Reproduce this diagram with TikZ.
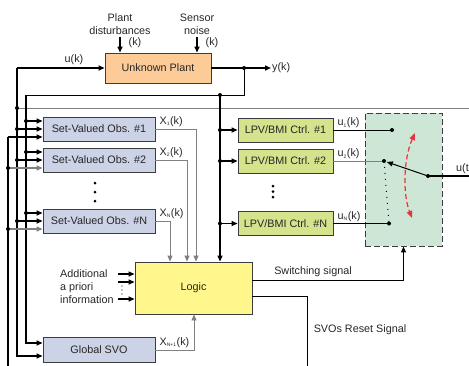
\documentclass[tikz,border=0pt]{standalone}
\usepackage{fontspec}
\setmainfont{Liberation Sans}
\usetikzlibrary{arrows.meta}
\definecolor{plantfill}{HTML}{FCCB98}
\definecolor{obsfill}{HTML}{CDD3E6}
\definecolor{ctrlfill}{HTML}{D5E38C}
\definecolor{logicfill}{HTML}{FFF68C}
\definecolor{swfill}{HTML}{CDE6D5}
\definecolor{edge}{HTML}{3C3C3C}
\definecolor{swred}{HTML}{E8323C}
\tikzset{
  blk/.style={draw=edge,line width=0.9pt,inner sep=0pt,minimum height=24pt},
  obs/.style={blk,fill=obsfill,minimum width=112pt},
  ctrl/.style={blk,fill=ctrlfill,minimum width=95pt},
  thk/.style={line width=1.6pt},
  wire/.style={line width=1pt},
  sig/.style={line width=0.9pt,draw=black!50},
  lbl/.style={inner sep=1pt}
}
\begin{document}
\begin{tikzpicture}[x=1pt,y=-1pt,>={Triangle[length=6pt,width=5pt]},
    every node/.style={font=\fontsize{10.8}{13}\selectfont,text=black!85}]
    \useasboundingbox (0,0) rectangle (469,365);
    \node[blk,fill=plantfill,minimum width=106pt,minimum height=30pt] (plant) at (158,68) {Unknown Plant};
    \node[obs] (obs1) at (99,129) {Set-Valued Obs. \#1};
    \node[obs] (obs2) at (99,160) {Set-Valued Obs. \#2};
    \node[obs] (obsN) at (99,221) {Set-Valued Obs. \#N};
    \node[obs,minimum height=25pt] (gsvo) at (99,350) {Global SVO};
    \node[blk,fill=logicfill,minimum width=117pt,minimum height=52pt] (logic) at (193.5,288) {Logic};
    \node[ctrl] (ctrl1) at (285.5,130) {LPV/BMI Ctrl. \#1};
    \node[ctrl] (ctrl2) at (285.5,161) {LPV/BMI Ctrl. \#2};
    \node[ctrl] (ctrlN) at (285.5,223.5) {LPV/BMI Ctrl. \#N};
    \node[blk,fill=swfill,dash pattern=on 6pt off 3pt,minimum width=77pt,minimum height=133pt] (sw) at (403.5,179.5) {};
    \node[align=center,lbl] (dist) at (120,24) {Plant\\disturbances};
    \node[align=center,lbl] (noise) at (197,24) {Sensor\\noise};
    \node (distk) at (135,43) {(k)};
    \node (noisek) at (212,43) {(k)};
    \node (uk) at (74,60) {u(k)};
    \node[right,lbl] (yk) at (271,68) {y(k)};
    \node[align=left,lbl,anchor=west] (info) at (59,287) {Additional\\a priori\\information};
    \node[lbl] (swlbl) at (313,272) {Switching signal};
    \node[lbl] (rstlbl) at (360,330) {SVOs Reset Signal};
    \coordinate (ubus) at (17,68);
    \coordinate (ybus) at (26,95);
    \coordinate (rbus) at (8,137);
    \coordinate (ufb) at (17,108);
    \coordinate (ytap) at (244,68);
    \coordinate (ydrop) at (220,95);
    \coordinate (s1) at (392,130);
    \coordinate (s2) at (384,161);
    \coordinate (sN) at (389,223.5);
    \coordinate (piv) at (428,176);
    \draw[thk,->] ([yshift=-1pt]dist.south) -- (dist.south |- plant.north);
    \draw[thk,->] ([yshift=-1pt]noise.south) -- (noise.south |- plant.north);
    \draw[thk,->] (ubus) -- (plant.west);
    \draw[thk,->] (plant.east) -- (yk.west);
    \draw[wire] (ytap) |- (ybus);
    \draw[sig] (ufb) -- (475,108);
    \draw[thk,->] (ybus) |- ([yshift=7pt]gsvo.west);
    \draw[thk,->] (ubus) |- ([yshift=-6pt]gsvo.west);
    \draw[thk] (rbus) -- (8,370);
    \foreach \o in {obs1,obs2,obsN}{
        \coordinate (inA) at ([yshift=8pt]\o.west);
        \draw[thk,->] (ybus |- inA) -- (inA);
        \draw[thk,->] (ubus |- \o.west) -- (\o.west);
        \fill (ybus |- inA) circle (2pt) (ubus |- \o.west) circle (2pt);
    }
    \draw[thk,->] (rbus) -- ([yshift=-8pt]obs1.west);
    \foreach \o in {obs2,obsN}{
        \coordinate (inC) at ([yshift=-8pt]\o.west);
        \draw[sig,line width=1.3pt,->] (rbus |- inC) -- (inC);
        \fill (rbus |- inC) circle (2pt);
    }
    \draw[line width=1.2pt,->] (ydrop) -- (ydrop |- logic.north);
    \foreach \c in {ctrl1,ctrl2,ctrlN}{
        \draw[thk,->] (ydrop |- \c.west) -- (\c.west);
        \fill (ydrop |- \c.west) circle (2pt);
    }
    \fill (ufb) circle (2pt) (ytap) circle (2pt) (ydrop) circle (2pt);
    \draw[sig,->] (obs1.east) -| ([xshift=2.5pt]logic.north);
    \draw[sig,->] (obs2.east) -| ([xshift=-6.5pt]logic.north);
    \draw[sig,->] (obsN.east) -| ([xshift=-23.5pt]logic.north);
    \draw[sig,->] (gsvo.east) -| ([xshift=0.5pt]logic.south);
    \node[lbl,anchor=south west] (x1) at ([xshift=3pt,yshift=1.5pt]obs1.east) {X\textsubscript{\tiny 1}(k)};
    \node[lbl,anchor=south west] (x2) at ([xshift=3pt,yshift=1.5pt]obs2.east) {X\textsubscript{\tiny 2}(k)};
    \node[lbl,anchor=south west] (xN) at ([xshift=3pt,yshift=1.5pt]obsN.east) {X\textsubscript{\tiny N}(k)};
    \node[lbl,anchor=south west] (xg) at ([xshift=3pt,yshift=1.5pt]gsvo.east) {X\textsubscript{\tiny N+1}(k)};
    \coordinate (infoR) at ([xshift=3pt]info.east);
    \foreach \y in {274,282,299}
        \draw[line width=1.3pt,->] (infoR |- 0,\y) -- (logic.west |- 0,\y);
    \foreach \y in {286,290,294}
        \fill (122,\y) circle (0.7pt);
    \foreach \y in {183,192,201}
        \fill (95,\y) circle (1.5pt);
    \foreach \y in {186,191.5,197}
        \fill (273,\y) circle (1.5pt);
    \draw[wire] (ctrl1.east) -- (s1);
    \draw[sig] (ctrl2.east) -- (s2);
    \draw[wire] (ctrlN.east) -- (sN);
    \node[lbl,anchor=south west] (u1) at ([xshift=3pt,yshift=1pt]ctrl1.east) {u\textsubscript{\tiny 1}(k)};
    \node[lbl,anchor=south west] (u2) at ([xshift=3pt,yshift=1pt]ctrl2.east) {u\textsubscript{\tiny 2}(k)};
    \node[lbl,anchor=south west] (uN) at ([xshift=3pt,yshift=1pt]ctrlN.east) {u\textsubscript{\tiny N}(k)};
    \draw[line width=1pt,dash pattern=on 1pt off 5pt] (s2) -- (sN);
    \fill (s1) circle (2pt) (s2) circle (2pt) (sN) circle (2pt) (piv) circle (2pt);
    \draw[wire,->,shorten >=3pt] (piv) -- (s2);
    \draw[thk] (piv) -- (475,176);
    \node[lbl,anchor=south west] (ut) at (455,175) {u(t)};
    \draw[swred,line width=1.2pt,dash pattern=on 5pt off 3pt,{Triangle[length=7pt,width=5.5pt]}-{Triangle[length=7pt,width=5.5pt]}] (415,133) .. controls (403,160) and (403,195) .. (412,218);
    \draw[wire,->] ([yshift=8pt]logic.east) -| (sw.south);
    \draw[wire] ([yshift=-8pt]logic.east) -| (307,370);
\end{tikzpicture}
\end{document}
